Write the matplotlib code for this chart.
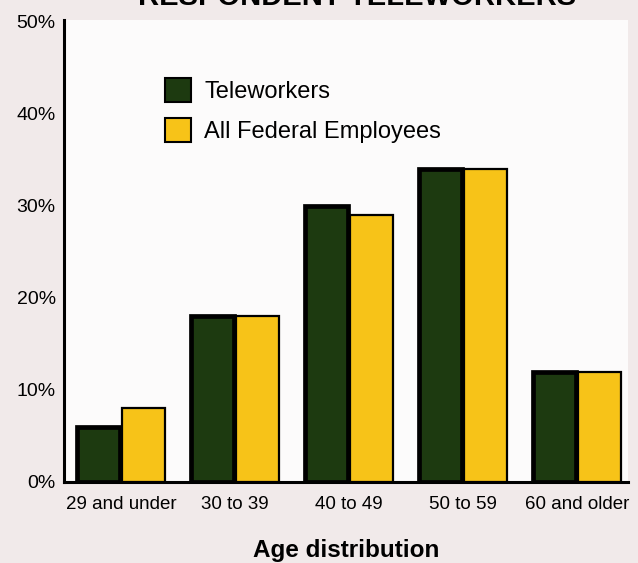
import matplotlib
matplotlib.use("Agg")
import matplotlib.pyplot as plt
from matplotlib.patches import Patch
import numpy as np

# Age distribution of respondent teleworkers vs. all federal employees (%)
categories = ["29 and under", "30 to 39", "40 to 49", "50 to 59", "60 and older"]
teleworkers = [6, 18, 30, 34, 12]
all_federal = [8, 18, 29, 34, 12]
y_ticks = [0, 10, 20, 30, 40, 50]
y_tick_labels = ["0%", "10%", "20%", "30%", "40%", "50%"]

green = "#1d3a10"
yellow = "#f7c318"
paper = "#f1eaea"
sans = ["Liberation Sans", "DejaVu Sans"]

plt.rcParams["font.family"] = sans

fig = plt.figure(figsize=(6.38, 5.63), dpi=100, facecolor=paper)
ax = fig.add_axes([0.1003, 0.144, 0.884, 0.8205])
ax.set_facecolor("#fcfbfb")

x = np.arange(len(categories))
w = 0.38
ax.bar(x - 0.2, teleworkers, w, color=green, edgecolor="black", linewidth=3.4,
       label="Teleworkers", zorder=3)
ax.bar(x + 0.2, all_federal, w, color=yellow, edgecolor="black", linewidth=1.6,
       label="All Federal Employees", zorder=3)

ax.set_xlim(-0.5, 4.447)
ax.set_ylim(0, 50.2)
ax.set_yticks(y_ticks)
ax.set_yticklabels(y_tick_labels, fontsize=14)
ax.set_xticks(x)
ax.set_xticklabels(categories, fontsize=13.5)
ax.tick_params(axis="both", length=0)
ax.tick_params(axis="x", pad=10)
ax.tick_params(axis="y", pad=6)

for s in ["top", "right"]:
    ax.spines[s].set_visible(False)
ax.spines["left"].set_linewidth(2.2)
ax.spines["bottom"].set_linewidth(2.2)

ax.set_xlabel("Age distribution", fontsize=17.5, fontweight="bold", labelpad=19)

handles = [Patch(facecolor=green, edgecolor="black", linewidth=1.5, label="Teleworkers"),
           Patch(facecolor=yellow, edgecolor="black", linewidth=1.5, label="All Federal Employees")]
ax.legend(handles=handles, loc="upper left", bbox_to_anchor=(0.142, 0.92),
          frameon=False, handlelength=1.1, handleheight=1.15,
          handletextpad=0.55, labelspacing=0.65,
          prop={"family": sans, "size": 17})

fig.text(0.56, 1.005, "RESPONDENT TELEWORKERS", ha="center", va="center",
         fontsize=21, fontweight="bold")

fig.savefig("out.png", dpi=100, facecolor=paper)
